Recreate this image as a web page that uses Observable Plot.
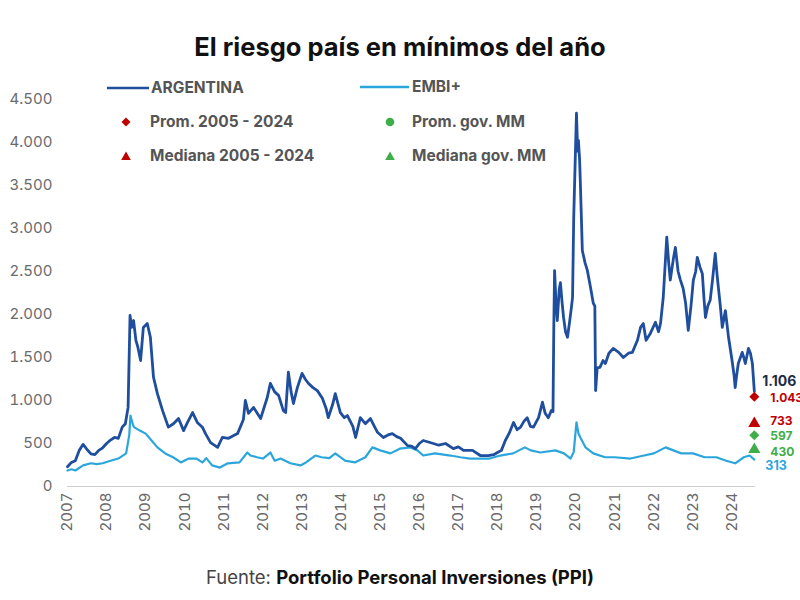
<!DOCTYPE html>
<html><head><meta charset="utf-8">
<script src="https://cdn.jsdelivr.net/npm/d3@7"></script>
<script src="https://cdn.jsdelivr.net/npm/@observablehq/plot@0.6"></script>
<style>
body{margin:0;background:#fff;font-family:Inter,"Noto Sans",sans-serif;}
#wrap{position:relative;width:800px;height:600px;overflow:hidden;}
#title{position:absolute;top:31px;left:0;width:800px;text-align:center;font-size:25.5px;font-weight:700;color:#111;}
#chart{position:absolute;top:70px;left:0;}
.leg{position:absolute;height:18px;line-height:18px;font-size:15.5px;font-weight:700;color:#555;white-space:nowrap;}
.sym{position:absolute;}
#caption{position:absolute;top:566px;left:0;width:800px;text-align:center;font-size:18.5px;color:#444;}
#caption b{color:#111;}
</style>
</head><body>
<div id="wrap">
  <div id="title">El riesgo país en mínimos del año</div>
  <div id="chart"></div>
  <div id="legend"></div>
  <div id="caption">Fuente: <b>Portfolio Personal Inversiones (PPI)</b></div>
</div>
<script>
// ---- data (decimal year, spread in bps) ----
const argYears = [2007.00,2007.10,2007.20,2007.30,2007.40,2007.50,2007.60,2007.70,2007.80,2007.90,2008.00,2008.10,2008.20,2008.30,2008.40,2008.48,2008.55,2008.60,2008.64,2008.69,2008.75,2008.80,2008.87,2008.94,2009.04,2009.12,2009.20,2009.30,2009.43,2009.58,2009.71,2009.84,2009.97,2010.07,2010.20,2010.32,2010.45,2010.53,2010.66,2010.84,2010.96,2011.12,2011.35,2011.50,2011.55,2011.63,2011.76,2011.94,2012.11,2012.19,2012.30,2012.40,2012.52,2012.58,2012.65,2012.72,2012.78,2012.88,2013.00,2013.08,2013.16,2013.28,2013.39,2013.52,2013.62,2013.67,2013.78,2013.85,2013.98,2014.08,2014.16,2014.30,2014.37,2014.49,2014.62,2014.75,2014.85,2014.93,2015.08,2015.20,2015.31,2015.42,2015.52,2015.70,2015.80,2015.90,2016.00,2016.10,2016.36,2016.50,2016.67,2016.87,2017.00,2017.13,2017.36,2017.56,2017.77,2017.90,2018.00,2018.10,2018.20,2018.30,2018.41,2018.50,2018.59,2018.68,2018.76,2018.84,2018.92,2019.05,2019.15,2019.22,2019.30,2019.38,2019.42,2019.44,2019.46,2019.50,2019.53,2019.58,2019.61,2019.65,2019.69,2019.74,2019.79,2019.84,2019.89,2019.92,2019.95,2020.00,2020.02,2020.05,2020.07,2020.10,2020.12,2020.17,2020.24,2020.30,2020.38,2020.45,2020.49,2020.51,2020.55,2020.62,2020.70,2020.76,2020.85,2020.96,2021.10,2021.22,2021.35,2021.45,2021.58,2021.66,2021.73,2021.80,2021.91,2022.04,2022.12,2022.17,2022.24,2022.33,2022.38,2022.42,2022.50,2022.55,2022.62,2022.68,2022.75,2022.81,2022.88,2022.95,2023.01,2023.07,2023.11,2023.18,2023.24,2023.28,2023.32,2023.38,2023.44,2023.50,2023.57,2023.62,2023.65,2023.70,2023.75,2023.83,2023.91,2024.00,2024.05,2024.08,2024.12,2024.16,2024.26,2024.30,2024.34,2024.42,2024.47,2024.52,2024.57];
const argValues = [230,280,300,420,490,430,380,370,420,450,500,540,570,560,690,730,920,1990,1850,1930,1700,1620,1465,1850,1895,1735,1270,1080,885,690,730,790,650,745,860,745,690,615,510,455,570,560,615,780,1000,850,920,790,1035,1200,1100,1060,885,860,1330,1100,965,1150,1315,1250,1200,1150,1115,1025,900,800,950,1080,860,800,825,700,570,800,730,790,700,630,570,600,615,580,560,475,470,440,500,535,500,480,500,440,460,420,420,360,360,370,395,420,535,620,745,660,690,760,800,700,690,800,980,850,800,885,870,1850,2510,2100,1930,2300,2370,2150,1965,1800,1735,1900,2080,2200,3130,4000,4340,3900,4025,3800,3525,2745,2600,2510,2315,2130,2100,1115,1380,1385,1465,1430,1550,1605,1560,1500,1550,1560,1700,1850,1895,1700,1780,1910,1800,1895,2200,2900,2600,2400,2650,2780,2500,2400,2300,2140,1815,2100,2400,2500,2665,2550,2475,2200,1965,2100,2165,2400,2710,2450,2315,2100,1850,2045,1735,1465,1300,1150,1300,1430,1560,1500,1430,1605,1550,1430,1106];
const embiYears = [2007.00,2007.10,2007.20,2007.40,2007.60,2007.75,2007.90,2008.10,2008.30,2008.50,2008.58,2008.61,2008.66,2008.70,2008.85,2009.00,2009.15,2009.30,2009.50,2009.70,2009.90,2010.10,2010.30,2010.45,2010.55,2010.70,2010.90,2011.10,2011.40,2011.60,2011.68,2011.85,2012.00,2012.19,2012.30,2012.45,2012.70,2012.96,2013.10,2013.34,2013.50,2013.70,2013.85,2014.10,2014.35,2014.62,2014.80,2015.00,2015.26,2015.50,2015.77,2015.95,2016.10,2016.40,2016.80,2017.05,2017.30,2017.55,2017.80,2018.07,2018.40,2018.70,2018.85,2019.10,2019.48,2019.70,2019.87,2019.95,2020.02,2020.07,2020.12,2020.25,2020.45,2020.75,2021.00,2021.40,2021.75,2022.00,2022.30,2022.50,2022.70,2023.00,2023.30,2023.60,2023.85,2024.08,2024.30,2024.45,2024.57];
const embiValues = [186,200,186,245,270,260,270,300,325,385,600,825,740,690,650,615,535,455,385,340,280,325,325,280,330,245,220,270,280,395,360,340,325,395,300,325,270,245,280,360,340,330,385,300,280,340,455,420,385,440,455,420,360,385,360,340,325,325,325,360,385,455,420,395,420,385,325,400,745,620,570,455,385,340,340,325,360,385,455,420,385,385,340,340,300,270,340,360,313];

const refNames  = ["Prom. 2005 - 2024","Mediana 2005 - 2024","Prom. gov. MM","Mediana gov. MM"];
const refValues = [1043, 733, 597, 430];
const refColors = ["#c00000","#c00000","#3fae49","#3fae49"];
const refKinds  = ["diamond","triangle","diamond","triangle"];
const refLabelDy = [1, -2, 1, 3];
const lastArg = 1106, lastEmbi = 313, lastYear = 2024.57;
const yTicks = [0,500,1000,1500,2000,2500,3000,3500,4000,4500];
const xTicks = d3.range(2007, 2025);

const ARG = "#1f4e9e", EMBI = "#2ba6dc";
const arg = argYears.map((x,i)=>({x, y: argValues[i]}));
const embi = embiYears.map((x,i)=>({x, y: embiValues[i]}));
const refs = refValues.map((v,i)=>({x:lastYear, y:v, c:refColors[i], k:refKinds[i], dy:refLabelDy[i]}));
const fmt = v => d3.format(",")(v).replace(/,/g,".");

const refTextMarks = refs.map(r => Plot.text([r], {x: "x", y: "y", text: d => fmt(d.y), fill: r.c, dx: 16, dy: r.dy, textAnchor: "start", fontSize: 12, fontWeight: 700}));

const plot = Plot.plot({
  width: 800, height: 472,
  marginLeft: 67, marginRight: 45, marginTop: 29, marginBottom: 56,
  style: {fontFamily: "Inter, 'Noto Sans', sans-serif", color: "#666", background: "transparent", overflow: "visible"},
  x: {type: "linear", domain: [2007, 2024.6], label: null},
  y: {domain: [0, 4500], label: null},
  marks: [
    Plot.ruleY([0], {stroke: "#cfcfcf", strokeWidth: 1.2}),
    Plot.axisY({ticks: yTicks, tickFormat: fmt, tickSize: 0, tickPadding: 15, fontSize: 15, fill: "#6a6a6a", label: null}),
    Plot.axisX({ticks: xTicks, tickFormat: d => String(d), tickRotate: -90, tickSize: 0, tickPadding: 6, fontSize: 15, fill: "#6a6a6a", label: null}),
    Plot.line(embi, {x: "x", y: "y", stroke: EMBI, strokeWidth: 2.2}),
    Plot.line(arg, {x: "x", y: "y", stroke: ARG, strokeWidth: 2.8}),
    Plot.dot(refs.filter(d => d.k === "diamond"), {x: "x", y: "y", fill: "c", symbol: "square", rotate: 45, r: 4}),
    Plot.dot(refs.filter(d => d.k === "triangle"), {x: "x", y: "y", fill: "c", symbol: "triangle", r: 4.5}),
    ...refTextMarks,
    Plot.text([{x: lastYear, y: lastArg}], {x: "x", y: "y", text: d => fmt(d.y), fill: "#1c2b4a", dx: 8, dy: -10, textAnchor: "start", fontSize: 14, fontWeight: 700}),
    Plot.text([{x: lastYear, y: lastEmbi}], {x: "x", y: "y", text: d => fmt(d.y), fill: EMBI, dx: 11, dy: 6, textAnchor: "start", fontSize: 12.5, fontWeight: 700})
  ]
});
document.getElementById("chart").appendChild(plot);

// ---- legend ----
const legend = document.getElementById("legend");
const legItems = [
  {name: "ARGENTINA", kind: "line", color: ARG, lx: 107, lw: 42, tx: 151, cy: 88},
  {name: "EMBI+", kind: "line", color: EMBI, lx: 360, lw: 49, tx: 412, cy: 87},
  {name: refNames[0], kind: "diamond", color: refColors[0], lx: 126, tx: 150, cy: 122},
  {name: refNames[2], kind: "circle", color: refColors[2], lx: 390, tx: 412, cy: 122},
  {name: refNames[1], kind: "triangle", color: refColors[1], lx: 126, tx: 150, cy: 156},
  {name: refNames[3], kind: "triangle", color: refColors[3], lx: 390, tx: 412, cy: 156}
];
for (const it of legItems) {
  const s = document.createElementNS("http://www.w3.org/2000/svg", "svg");
  s.setAttribute("class", "sym");
  if (it.kind === "line") {
    s.setAttribute("width", it.lw); s.setAttribute("height", 6);
    s.style.left = it.lx + "px"; s.style.top = (it.cy - 3) + "px";
    s.innerHTML = `<line x1="0" x2="${it.lw}" y1="3" y2="3" stroke="${it.color}" stroke-width="2.5"/>`;
  } else {
    s.setAttribute("width", 12); s.setAttribute("height", 12);
    s.style.left = (it.lx - 6) + "px"; s.style.top = (it.cy - 6) + "px";
    let shape;
    if (it.kind === "diamond") shape = `<path d="M6,1.5L10.5,6L6,10.5L1.5,6Z" fill="${it.color}"/>`;
    else if (it.kind === "circle") shape = `<circle cx="6" cy="6" r="4.3" fill="${it.color}"/>`;
    else shape = `<path d="M6,1.5L10.8,10L1.2,10Z" fill="${it.color}"/>`;
    s.innerHTML = shape;
  }
  legend.appendChild(s);
  const t = document.createElement("div");
  t.className = "leg"; t.textContent = it.name;
  t.style.left = it.tx + "px"; t.style.top = (it.cy - 9) + "px";
  legend.appendChild(t);
}
</script>
</body></html>
